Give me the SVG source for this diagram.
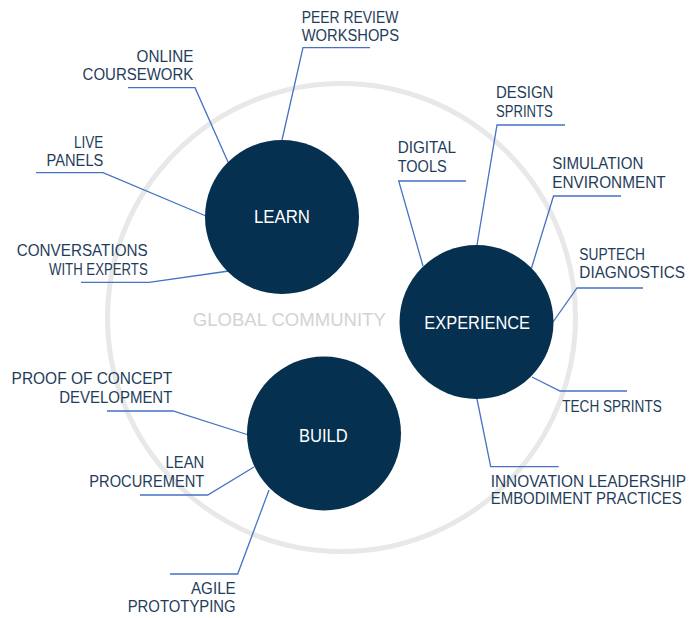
<svg xmlns="http://www.w3.org/2000/svg" width="699" height="618" viewBox="0 0 699 618">
<style>
.lbl{font-family:"Liberation Sans",Arial,sans-serif;font-size:16px;fill:#1f3d5a}
.r{text-anchor:end}
.hub{fill:#05304f}
.hubt{font-family:"Liberation Sans",Arial,sans-serif;font-size:18px;fill:#ffffff;text-anchor:middle}
.con{fill:none;stroke:#4472c4;stroke-width:1.3}
</style>
<rect width="699" height="618" fill="#ffffff"/>
<g id="community">
<circle cx="341.5" cy="317.5" r="234" fill="none" stroke="#e8e8e8" stroke-width="5"/>
<text x="289.3" y="326" font-family="Liberation Sans,Arial,sans-serif" font-size="19" fill="#d3d3d3" text-anchor="middle" textLength="193" lengthAdjust="spacingAndGlyphs">GLOBAL COMMUNITY</text>
</g>
<g id="connectors">
<polyline class="con" points="370,47.7 303,47.7 282,140"/>
<polyline class="con" points="128,87.7 195,87.7 228,162"/>
<polyline class="con" points="36,172.7 103,172.7 206,216"/>
<polyline class="con" points="81,282.3 149,282.3 229,271"/>
<polyline class="con" points="466,181 398.7,181 423,266"/>
<polyline class="con" points="565,125 497,125 477,245"/>
<polyline class="con" points="621,196 553.5,196 531.5,268"/>
<polyline class="con" points="643,288 577,288 553,322"/>
<polyline class="con" points="627,391 560,391 532,377"/>
<polyline class="con" points="558.7,466.7 490.7,466.7 477,399"/>
<polyline class="con" points="107,411 173,411 247,434.5"/>
<polyline class="con" points="140,495 207.7,495 254,467"/>
<polyline class="con" points="170,574 237.7,574 269,490"/>
</g>
<g id="learn">
<circle class="hub" cx="282" cy="217" r="77"/>
<text class="hubt" x="282" y="223.3" textLength="56" lengthAdjust="spacingAndGlyphs">LEARN</text>
</g>
<g id="experience">
<circle class="hub" cx="476.5" cy="322" r="77"/>
<text class="hubt" x="477.2" y="329.3" textLength="105.7" lengthAdjust="spacingAndGlyphs">EXPERIENCE</text>
</g>
<g id="build">
<circle class="hub" cx="324" cy="433.5" r="77"/>
<text class="hubt" x="323.3" y="441.7" textLength="48.7" lengthAdjust="spacingAndGlyphs">BUILD</text>
</g>
<g id="peer-review"><text class="lbl" x="301.7" y="22.7" textLength="96.7" lengthAdjust="spacingAndGlyphs">PEER REVIEW</text><text class="lbl" x="301.7" y="41" textLength="97.3" lengthAdjust="spacingAndGlyphs">WORKSHOPS</text></g>
<g id="online-coursework"><text class="lbl r" x="193.3" y="61.7" textLength="56.7" lengthAdjust="spacingAndGlyphs">ONLINE</text><text class="lbl r" x="193.3" y="80" textLength="110.7" lengthAdjust="spacingAndGlyphs">COURSEWORK</text></g>
<g id="live-panels"><text class="lbl r" x="103.3" y="147.7" textLength="29.3" lengthAdjust="spacingAndGlyphs">LIVE</text><text class="lbl r" x="103.3" y="165.7" textLength="56.7" lengthAdjust="spacingAndGlyphs">PANELS</text></g>
<g id="conversations"><text class="lbl r" x="147.7" y="256" textLength="131" lengthAdjust="spacingAndGlyphs">CONVERSATIONS</text><text class="lbl r" x="147.7" y="275.3" textLength="98.7" lengthAdjust="spacingAndGlyphs">WITH EXPERTS</text></g>
<g id="digital-tools"><text class="lbl" x="397.7" y="153.3" textLength="58.3" lengthAdjust="spacingAndGlyphs">DIGITAL</text><text class="lbl" x="397.7" y="172.3" textLength="49" lengthAdjust="spacingAndGlyphs">TOOLS</text></g>
<g id="design-sprints"><text class="lbl" x="496" y="98.3" textLength="57.3" lengthAdjust="spacingAndGlyphs">DESIGN</text><text class="lbl" x="496" y="116.7" textLength="56.7" lengthAdjust="spacingAndGlyphs">SPRINTS</text></g>
<g id="simulation"><text class="lbl" x="552.3" y="169" textLength="91" lengthAdjust="spacingAndGlyphs">SIMULATION</text><text class="lbl" x="552.3" y="188.3" textLength="113.3" lengthAdjust="spacingAndGlyphs">ENVIRONMENT</text></g>
<g id="suptech"><text class="lbl" x="579.3" y="260" textLength="65.7" lengthAdjust="spacingAndGlyphs">SUPTECH</text><text class="lbl" x="579.3" y="278.3" textLength="105.7" lengthAdjust="spacingAndGlyphs">DIAGNOSTICS</text></g>
<g id="tech-sprints"><text class="lbl" x="562.3" y="411.7" textLength="99.4" lengthAdjust="spacingAndGlyphs">TECH SPRINTS</text></g>
<g id="innovation"><text class="lbl" x="490.7" y="486.7" textLength="195.3" lengthAdjust="spacingAndGlyphs">INNOVATION LEADERSHIP</text><text class="lbl" x="490.7" y="504" textLength="191" lengthAdjust="spacingAndGlyphs">EMBODIMENT PRACTICES</text></g>
<g id="proof-of-concept"><text class="lbl r" x="172.3" y="384" textLength="160.7" lengthAdjust="spacingAndGlyphs">PROOF OF CONCEPT</text><text class="lbl r" x="172.3" y="402.7" textLength="113" lengthAdjust="spacingAndGlyphs">DEVELOPMENT</text></g>
<g id="lean-procurement"><text class="lbl r" x="204.3" y="468.3" textLength="38.7" lengthAdjust="spacingAndGlyphs">LEAN</text><text class="lbl r" x="204.3" y="486.7" textLength="115" lengthAdjust="spacingAndGlyphs">PROCUREMENT</text></g>
<g id="agile"><text class="lbl r" x="235.7" y="594" textLength="44.7" lengthAdjust="spacingAndGlyphs">AGILE</text><text class="lbl r" x="235.7" y="612.3" textLength="108" lengthAdjust="spacingAndGlyphs">PROTOTYPING</text></g>
</svg>
